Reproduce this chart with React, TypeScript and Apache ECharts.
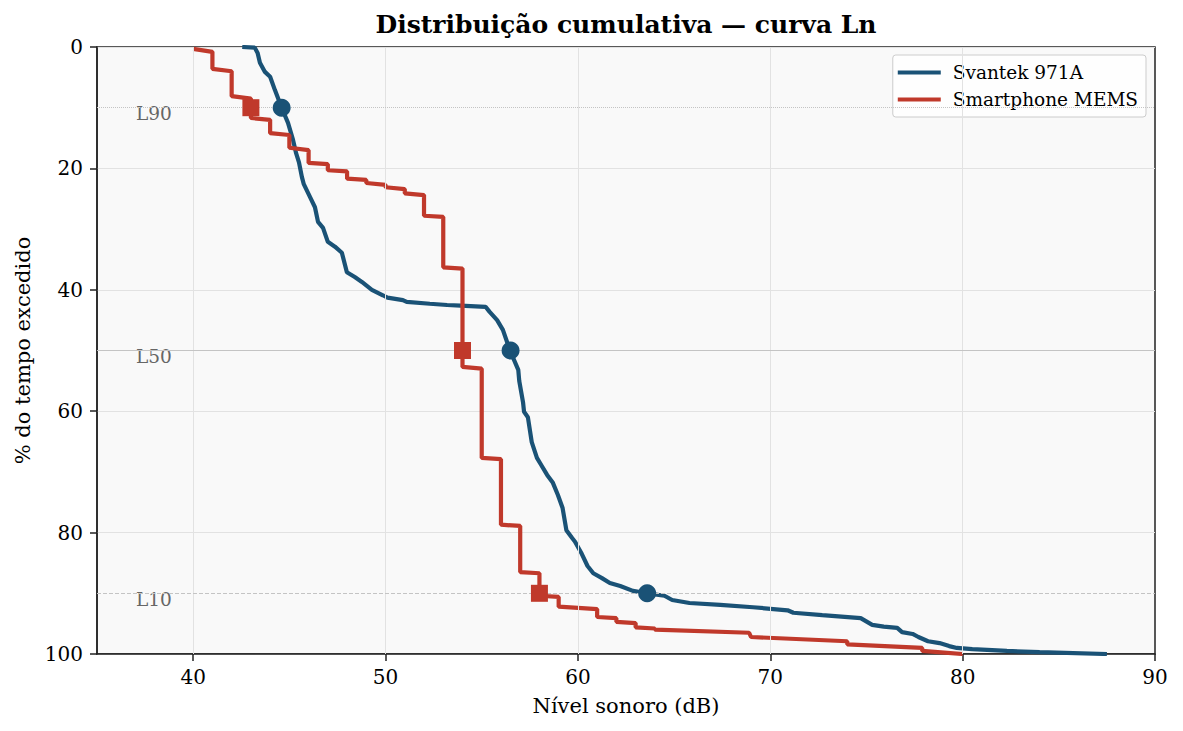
import React, { useEffect, useRef } from "react";
import * as echarts from "echarts";

// Cumulative level distribution (Ln curve): sound level vs. % of time exceeded
const svantekCurve: [number, number][] = [
  [42.55, 0], [43.2, 0.1], [43.35, 1.0], [43.47, 2.6], [43.73, 4.1], [44.0, 4.9],
  [44.25, 7.1], [44.6, 10.0], [44.93, 12.5], [45.19, 15.3], [45.35, 17.5], [45.5, 19.0],
  [45.65, 21.4], [45.75, 22.6], [46.07, 24.7], [46.33, 26.4], [46.49, 28.8], [46.75, 29.8],
  [47.0, 32.1], [47.37, 32.9], [47.73, 33.9], [47.99, 37.1], [48.4, 37.9], [48.77, 38.7],
  [49.29, 40.0], [49.86, 40.9], [50.1, 41.3], [50.9, 41.7], [51.1, 42.0], [52.3, 42.3],
  [53.2, 42.5], [53.9, 42.6], [55.2, 42.8], [55.4, 43.6], [55.8, 45.0], [56.1, 46.6],
  [56.47, 50.0], [56.9, 53.2], [56.95, 55.0], [57.15, 58.6], [57.2, 60.1], [57.4, 61.0],
  [57.6, 65.1], [57.87, 67.7], [58.1, 68.9], [58.4, 70.5], [58.7, 71.8], [58.96, 73.8],
  [59.2, 75.9], [59.4, 79.6], [59.7, 80.9], [59.85, 81.5], [60.2, 83.5], [60.5, 85.5],
  [60.8, 86.7], [61.25, 87.5], [61.66, 88.3], [62.2, 88.8], [62.86, 89.6], [63.6, 90.0],
  [64.5, 90.4], [64.9, 91.1], [65.8, 91.6], [67.4, 91.9], [69.1, 92.3], [70.9, 92.8],
  [71.2, 93.2], [72.7, 93.6], [74.7, 94.1], [75.3, 95.2], [75.9, 95.5], [76.6, 95.7],
  [76.85, 96.4], [77.4, 96.7], [77.7, 97.2], [78.2, 97.9], [78.8, 98.2], [79.3, 98.7],
  [79.7, 99.0], [80.5, 99.2], [82.3, 99.5], [84.0, 99.7], [87.5, 100],
];

const memsCurve: [number, number][] = [
  [40, 0.3], [41, 0.8], [41, 3.6], [42, 4.0], [42, 8.1], [43, 8.5], [43, 11.7],
  [44, 12.0], [44, 14.2], [45, 14.5], [45, 16.6], [46, 17.0], [46, 19.1], [47, 19.3],
  [47, 20.3], [48, 20.5], [48, 21.7], [49, 21.9], [49, 22.4], [50, 22.7], [50, 23.1],
  [51, 23.4], [51, 24.1], [52, 24.4], [52, 27.8], [53, 28.0], [53, 36.3], [54, 36.5],
  [54, 52.7], [55, 53.0], [55, 67.7], [56, 67.9], [56, 78.7], [57, 78.9], [57, 86.5],
  [58, 86.7], [58, 90.4], [59, 90.6], [59, 92.2], [61, 92.6], [61, 93.9], [62, 94.1],
  [62, 94.7], [63, 94.9], [63, 95.6], [64, 95.8], [64, 96.0], [68.9, 96.5], [69, 97.2],
  [74, 97.9], [74, 98.4], [77.9, 99.0], [77.9, 99.5], [80, 100],
];

// Percentile levels (L90, L50, L10) at 10 / 50 / 90 % of time exceeded
const percentLevels = [10, 50, 90];
const percentNames = ["L90", "L50", "L10"];
const svantekLn = [44.6, 56.5, 63.6];
const memsLn = [43, 54, 58];

const xTicks = [40, 50, 60, 70, 80, 90];
const xGrid = [40, 50, 60, 70, 80];
const labelX = 37;

const SERIF = "'DejaVu Serif', serif";
const BLUE = "#1a5276";
const RED = "#c0392b";

export default function App() {
  const ref = useRef<HTMLDivElement>(null);

  useEffect(() => {
    if (!ref.current) return;
    const chart = echarts.init(ref.current, undefined, { renderer: "svg" });

    const refLineStyles = ["dotted", "solid", "dashed"];

    chart.setOption({
      animation: false,
      backgroundColor: "#ffffff",
      textStyle: { fontFamily: SERIF },
      title: {
        text: "Distribuição cumulativa — curva Ln",
        left: 626,
        textAlign: "center",
        top: 12,
        padding: 0,
        textStyle: { fontFamily: SERIF, fontSize: 25, fontWeight: "bold", color: "#000" },
      },
      legend: {
        data: ["Svantek 971A", "Smartphone MEMS"],
        orient: "vertical",
        right: 37,
        top: 55,
        icon: "rect",
        itemWidth: 43,
        itemHeight: 4,
        itemGap: 8,
        padding: [8, 8, 8, 5],
        backgroundColor: "rgba(255,255,255,0.85)",
        borderColor: "#cccccc",
        borderWidth: 1,
        borderRadius: 3,
        textStyle: { fontFamily: SERIF, fontSize: 18.5, color: "#000", padding: [0, 0, 0, 7] },
      },
      grid: {
        left: 97,
        right: 28,
        top: 47,
        bottom: 77,
        show: true,
        backgroundColor: "#f9f9f9",
        borderColor: "#222",
        borderWidth: 1.5,
      },
      xAxis: {
        type: "value",
        min: 35,
        max: 90,
        name: "Nível sonoro (dB)",
        nameLocation: "middle",
        nameGap: 41,
        nameTextStyle: { fontFamily: SERIF, fontSize: 21, color: "#000" },
        axisLine: { show: true, onZero: false, lineStyle: { color: "#222", width: 1.5 } },
        axisTick: { show: true, inside: false, length: 7, customValues: xTicks, lineStyle: { color: "#222", width: 1.5 } },
        axisLabel: { customValues: xTicks, margin: 13, fontFamily: SERIF, fontSize: 20, color: "#000" },
        splitLine: { show: false },
      },
      yAxis: {
        type: "value",
        min: 0,
        max: 100,
        interval: 20,
        inverse: true,
        name: "% do tempo excedido",
        nameLocation: "middle",
        nameGap: 64,
        nameTextStyle: { fontFamily: SERIF, fontSize: 21, color: "#000" },
        axisLine: { show: true, onZero: false, lineStyle: { color: "#222", width: 1.5 } },
        axisTick: { show: true, inside: false, length: 7, lineStyle: { color: "#222", width: 1.5 } },
        axisLabel: { margin: 14, fontFamily: SERIF, fontSize: 20, color: "#000" },
        splitLine: { show: true, lineStyle: { color: "#e2e2e2", width: 1 } },
      },
      series: [
        {
          // background guides: vertical grid and percentile reference lines
          name: "guides",
          type: "line",
          data: [],
          silent: true,
          markLine: {
            silent: true,
            symbol: "none",
            label: { show: false },
            data: [
              ...xGrid.map((v) => ({ xAxis: v, lineStyle: { color: "#e2e2e2", width: 1, type: "solid" } })),
              ...percentLevels.map((p, i) => ({
                yAxis: p,
                lineStyle: { color: "#c4c4c4", width: 1, type: refLineStyles[i] },
              })),
            ],
          },
        },
        {
          name: "percentile labels",
          type: "scatter",
          silent: true,
          symbolSize: 1,
          itemStyle: { color: "rgba(0,0,0,0)", opacity: 1 },
          data: percentLevels.map((p, i) => ({ value: [labelX, p], name: percentNames[i] })),
          label: {
            show: true,
            position: "right",
            distance: 0,
            offset: [0, 6],
            formatter: (prm: any) => prm.name,
            fontFamily: SERIF,
            fontSize: 18.5,
            color: "#666",
            opacity: 1,
          },
          z: 2,
        },
        {
          name: "Svantek 971A",
          type: "line",
          data: svantekCurve,
          showSymbol: false,
          symbol: "none",
          lineStyle: { color: BLUE, width: 4.2 },
          itemStyle: { color: BLUE },
          z: 3,
        },
        {
          name: "Smartphone MEMS",
          type: "line",
          data: memsCurve,
          showSymbol: false,
          symbol: "none",
          lineStyle: { color: RED, width: 4.2 },
          itemStyle: { color: RED },
          z: 4,
        },
        {
          name: "Svantek Ln",
          type: "scatter",
          data: svantekLn.map((v, i) => [v, percentLevels[i]]),
          symbol: "circle",
          symbolSize: 18,
          itemStyle: { color: BLUE, opacity: 1 },
          z: 5,
        },
        {
          name: "MEMS Ln",
          type: "scatter",
          data: memsLn.map((v, i) => [v, percentLevels[i]]),
          symbol: "rect",
          symbolSize: 17,
          itemStyle: { color: RED, opacity: 1 },
          z: 6,
        },
      ],
    });

    return () => chart.dispose();
  }, []);

  return (
    <div
      ref={ref}
      style={{ position: "fixed", left: 0, top: 0, width: 1183, height: 731 }}
    />
  );
}
